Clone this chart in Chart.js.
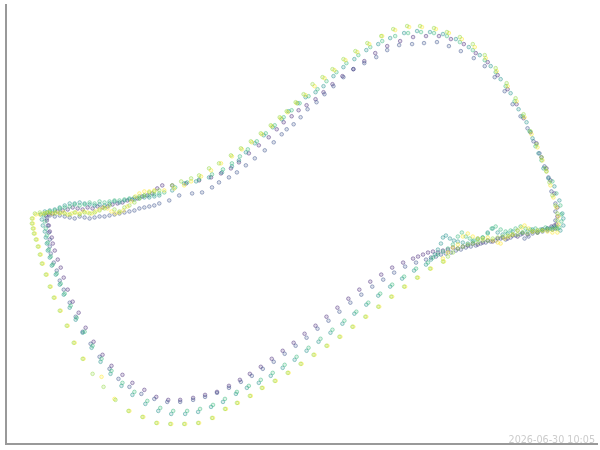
<!DOCTYPE html>
<html>
<head>
<meta charset="utf-8">
<script src="https://cdn.jsdelivr.net/npm/chart.js@4/dist/chart.umd.min.js"></script>
<style>
    body { margin: 0; background: #fff; }
    #wrap { position: relative; width: 600px; height: 450px; }
    #stamp {
        position: absolute; right: 5px; top: 435px;
        font: 9.6px "DejaVu Sans", sans-serif; line-height: 9.6px;
        color: #cccccc; white-space: nowrap;
    }
</style>
</head>
<body>
<div id="wrap">
    <canvas id="loopChart" width="600" height="450"></canvas>
    <div id="stamp">2026-06-30 10:05</div>
</div>
<script>
// Hysteresis loops, one per run: [field, moment] (arbitrary units)
const loopPurple = [
    [-254,9],[-253,4],[-251,-1],[-250,-7],[-248,-13],[-247,-19],[-245,-26],[-242,-35],[-239,-43],[-236,-53],[-232,-65],[-227,-77],[-221,-88],[-214,-103],[-206,-117],[-197,-130],[-188,-141],[-177,-150],[-167,-158],[-155,-165],[-143,-172],[-131,-175],[-119,-175],[-106,-173],[-94,-170],[-82,-167],[-70,-161],[-59,-155],[-49,-149],[-38,-142],[-27,-134],[-16,-126],[-5,-118],[6,-109],[17,-101],[28,-92],[39,-83],[50,-74],[61,-65],[72,-57],[83,-50],[94,-43],[105,-38],[115,-34],
    [120,-32],[125,-30],[130,-28],[135,-27],[140,-28],[145,-26],[150,-25],[155,-23],[160,-24],[165,-22],[170,-21],[175,-19],[180,-20],[185,-18],[190,-16],[195,-17],[200,-14],[205,-13],[210,-14],[215,-11],[220,-12],[225,-9],[230,-10],[235,-7],[240,-8],[245,-5],[250,-4],[254,-2],[257,-1],[259,0],
    [260,8],[260,17],[257,31],[253,44],[249,56],[244,67],[239,81],[233,92],[226,106],[219,120],[210,135],[200,149],[190,162],[178,171],[166,180],[153,185],[141,188],[128,188],[115,187],[102,183],[89,178],[77,171],[66,163],[55,155],[44,148],[34,140],[25,132],[17,125],[8,119],[0,114],[-7,108],[-15,102],[-22,95],[-30,87],[-40,79],[-50,71],[-60,62],[-68,56],[-78,51],[-88,47],[-100,44],[-113,41],[-127,39],[-137,39],
    [-142,36],[-147,31],[-152,29],[-157,28],[-162,26],[-167,25],[-172,24],[-177,22],[-182,21],[-187,20],[-192,18],[-197,17],[-202,18],[-207,16],[-212,17],[-217,15],[-222,16],[-227,17],[-232,15],[-237,14],[-242,13],[-247,11],[-251,10]
];
const loopBlue = [
    [-253,6],[-252,-1],[-251,-8],[-250,-15],[-250,-22],[-249,-29],[-246,-38],[-243,-46],[-240,-56],[-236,-65],[-230,-78],[-224,-92],[-217,-107],[-209,-119],[-200,-132],[-190,-144],[-181,-154],[-170,-162],[-158,-169],[-145,-174],[-132,-177],[-119,-177],[-106,-175],[-94,-172],[-82,-168],[-70,-163],[-58,-157],[-47,-151],[-36,-144],[-25,-137],[-14,-129],[-3,-121],[8,-113],[19,-104],[30,-96],[41,-87],[52,-78],[63,-70],[74,-62],[85,-55],[96,-48],[107,-42],[118,-38],[128,-35],
    [133,-33],[138,-32],[143,-30],[148,-29],[153,-28],[158,-26],[163,-25],[168,-23],[173,-22],[178,-21],[183,-19],[188,-18],[193,-17],[198,-16],[203,-14],[208,-15],[213,-13],[218,-11],[223,-10],[227,-14],[231,-12],[235,-9],[240,-8],[245,-7],[250,-6],[255,-5],[258,-4],
    [258,4],[258,13],[258,21],[254,33],[251,47],[247,58],[242,71],[236,83],[230,96],[223,108],[215,120],[207,133],[197,147],[187,158],[176,166],[163,173],[151,178],[139,182],[126,181],[114,180],[101,179],[89,174],[78,167],[66,161],[55,155],[45,147],[35,138],[26,130],[18,122],[9,115],[2,107],[-5,100],[-12,95],[-17,90],[-25,82],[-34,74],[-44,66],[-53,59],[-62,52],[-70,47],[-80,42],[-87,37],[-97,32],[-107,31],[-120,29],[-130,24],[-140,21],
    [-145,19],[-150,18],[-155,17],[-160,16],[-165,14],[-170,13],[-175,12],[-180,11],[-185,10],[-190,9],[-195,8],[-200,8],[-205,7],[-210,6],[-215,7],[-220,8],[-225,6],[-230,7],[-235,8],[-240,9],[-245,8],[-250,9]
];
const loopTeal = [
    [-259,10],[-258,5],[-257,-1],[-255,-7],[-254,-13],[-253,-19],[-252,-26],[-250,-33],[-248,-41],[-244,-50],[-240,-60],[-236,-70],[-230,-83],[-224,-95],[-217,-108],[-208,-123],[-199,-137],[-189,-149],[-178,-161],[-167,-170],[-154,-179],[-141,-186],[-128,-189],[-114,-189],[-101,-187],[-88,-182],[-76,-177],[-63,-169],[-52,-163],[-40,-158],[-28,-151],[-16,-143],[-4,-135],[8,-126],[20,-117],[32,-108],[44,-99],[56,-89],[68,-80],[80,-71],[92,-62],[104,-54],[116,-46],[128,-40],
    [133,-35],[137,-30],[140,-25],[143,-19],[145,-13],[148,-11],[152,-14],[156,-16],[160,-17],[165,-18],[170,-19],[175,-17],[180,-14],[185,-13],[190,-8],[195,-4],[200,-8],[205,-10],[210,-9],[215,-7],[220,-6],[225,-8],[230,-7],[235,-5],[240,-6],[245,-5],[250,-4],[255,-3],[260,-4],[263,-6],
    [266,-1],[266,6],[265,11],[262,24],[257,38],[251,46],[246,56],[241,71],[235,86],[229,102],[221,115],[213,131],[203,145],[193,158],[182,169],[171,177],[158,185],[145,190],[132,192],[119,193],[106,191],[92,186],[80,180],[68,174],[56,165],[45,157],[35,148],[25,138],[17,132],[7,127],[-1,121],[-10,113],[-17,105],[-26,97],[-35,89],[-44,81],[-53,72],[-60,64],[-67,58],[-77,52],[-90,47],[-103,43],[-115,41],[-127,34],[-140,29],
    [-145,28],[-150,27],[-155,27],[-160,26],[-165,25],[-170,25],[-175,24],[-180,22],[-185,23],[-190,21],[-195,19],[-200,20],[-205,19],[-210,20],[-215,21],[-220,22],[-225,21],[-230,21],[-235,19],[-240,17],[-245,15],[-250,14],[-255,13]
];
const loopGreen = [
    [-256,9],[-255,3],[-254,-4],[-253,-11],[-252,-18],[-251,-25],[-249,-32],[-247,-40],[-243,-49],[-239,-59],[-235,-69],[-229,-81],[-223,-93],[-215,-107],[-207,-121],[-198,-134],[-188,-146],[-177,-158],[-165,-167],[-152,-176],[-139,-183],[-126,-186],[-112,-186],[-99,-184],[-86,-180],[-74,-174],[-62,-167],[-50,-161],[-38,-155],[-26,-148],[-14,-140],[-2,-132],[10,-123],[22,-114],[34,-105],[46,-96],[58,-87],[70,-78],[82,-69],[94,-60],[106,-52],[118,-44],[130,-38],
    [135,-33],[140,-30],[145,-27],[150,-24],[155,-20],[160,-12],[164,-8],[168,-12],[172,-14],[176,-16],[180,-15],[185,-13],[190,-9],[194,-4],[198,-2],[203,-5],[208,-7],[213,-6],[218,-4],[223,-2],[228,-4],[233,-5],[238,-4],[243,-5],[248,-3],[253,-4],[258,-2],[262,-3],
    [264,3],[264,10],[263,19],[259,31],[255,43],[249,53],[244,64],[238,78],[232,93],[225,108],[217,123],[208,138],[198,152],[187,164],[175,174],[162,182],[149,188],[136,191],[123,192],[110,191],[97,188],[84,183],[72,177],[60,169],[48,161],[38,152],[28,143],[19,135],[10,128],[1,121],[-7,114],[-15,107],[-24,99],[-33,91],[-42,83],[-51,75],[-59,68],[-67,61],[-76,55],[-87,50],[-100,45],[-112,42],[-124,37],[-135,32],
    [-140,31],[-145,30],[-150,29],[-155,29],[-160,28],[-165,27],[-170,26],[-175,25],[-180,24],[-185,24],[-190,23],[-195,22],[-200,23],[-205,21],[-210,22],[-215,20],[-220,19],[-225,20],[-230,18],[-235,17],[-240,16],[-245,14],[-250,13],[-253,12]
];
const loopLime = [
    [-268,6],[-268,1],[-267,-4],[-266,-9],[-264,-15],[-262,-22],[-260,-30],[-258,-39],[-254,-50],[-250,-62],[-246,-73],[-240,-86],[-233,-101],[-226,-118],[-217,-134],[-207,-149],[-196,-162],[-184,-175],[-171,-186],[-157,-192],[-143,-198],[-129,-199],[-115,-199],[-101,-198],[-87,-193],[-74,-184],[-62,-178],[-49,-171],[-37,-163],[-24,-156],[-11,-148],[2,-139],[15,-130],[28,-121],[41,-112],[54,-102],[67,-92],[80,-82],[93,-72],[106,-62],[119,-53],[132,-44],[145,-37],
    [150,-32],[155,-28],[160,-24],[165,-22],[170,-20],[175,-19],[180,-18],[185,-16],[190,-16],[195,-14],[200,-13],[205,-12],[210,-11],[215,-10],[220,-10],[225,-8],[230,-9],[235,-7],[240,-8],[245,-6],[250,-5],[255,-5],[259,-4],
    [260,4],[260,11],[258,19],[255,29],[252,42],[248,56],[244,67],[239,80],[233,93],[226,110],[218,126],[209,141],[198,156],[187,169],[175,180],[162,187],[149,192],[136,196],[122,198],[109,198],[95,195],[83,188],[69,181],[57,173],[45,165],[34,155],[24,147],[14,140],[5,130],[-3,122],[-12,113],[-19,107],[-28,99],[-38,91],[-48,83],[-58,76],[-68,69],[-80,61],[-90,56],[-100,49],[-108,46],[-118,43],[-127,39],[-140,34],
    [-145,33],[-150,32],[-155,29],[-160,26],[-165,22],[-170,19],[-175,17],[-180,13],[-185,15],[-190,19],[-195,16],[-200,14],[-205,12],[-210,11],[-215,12],[-220,10],[-225,12],[-230,10],[-235,11],[-240,12],[-245,11],[-250,12],[-255,11],[-260,12],[-265,11]
];
const loopYellow = [
    [-267,6],[-267,1],[-266,-4],[-265,-9],[-263,-15],[-261,-22],[-259,-30],[-257,-39],[-253,-50],[-249,-62],[-245,-73],[-239,-86],[-232,-101],[-225,-118],[-216,-134],[-198,-152],[-185,-174],[-170,-186],[-156,-192],[-142,-198],[-128,-199],[-114,-199],[-100,-198],[-86,-193],[-73,-184],[-61,-178],[-48,-171],[-36,-163],[-23,-156],[-10,-148],[3,-139],[16,-130],[29,-121],[42,-112],[55,-102],[68,-92],[81,-82],[94,-72],[107,-62],[120,-53],[133,-44],[146,-37],
    [145,-34],[150,-28],[155,-23],[160,-20],[165,-12],[170,-9],[175,-12],[180,-14],[185,-14],[190,-13],[195,-16],[200,-18],[203,-19],[207,-14],[211,-12],[215,-10],[220,-6],[224,-3],[227,-1],[231,-4],[235,-7],[240,-6],[245,-6],[250,-7],[255,-8],[260,-8],
    [261,0],[261,8],[259,17],[256,27],[253,39],[249,53],[245,64],[240,77],[234,90],[227,107],[219,123],[210,138],[199,153],[188,166],[177,177],[164,185],[151,191],[138,195],[124,197],[111,197],[97,194],[84,188],[71,180],[59,172],[47,164],[36,154],[26,146],[16,138],[7,129],[-2,121],[-11,112],[-18,106],[-27,98],[-37,90],[-47,82],[-57,75],[-67,68],[-78,61],[-88,54],[-98,48],[-108,43],
    [-115,39],[-125,36],[-135,34],[-145,34],[-150,33],[-155,33],[-160,31],[-164,28],[-168,23],[-172,18],[-176,14],[-180,12],[-184,11],[-188,13],[-192,16],[-196,17],[-200,15],[-204,13],[-208,11],[-212,12],[-216,13],[-220,11],[-224,12],[-228,11],[-232,10],[-236,12],[-240,11],[-244,12],[-248,11],[-252,12],[-256,11],[-260,10],[-264,10]
];

const loops = [loopPurple, loopBlue, loopTeal, loopGreen, loopLime, loopYellow];
// viridis steps
const loopColors = ['72,40,120', '59,82,139', '33,145,140', '53,183,121', '144,215,67', '253,231,37'];
// drawing order (higher = further back); lime sits over yellow
const loopDepth = [6, 5, 4, 3, 1, 2];

const fieldRange = [-294, 300];
const momentRange = [-219, 219];

document.addEventListener('DOMContentLoaded', function() {
    const ctx = document.getElementById('loopChart');

    const datasets = loops.map(function(loop, i) {
        return {
            data: loop.map(p => ({ x: p[0], y: p[1] })),
            borderColor: 'rgba(' + loopColors[i] + ',0.45)',
            backgroundColor: 'rgba(' + loopColors[i] + ',0.18)',
            pointRadius: 1.8,
            pointBorderWidth: 1,
            pointHoverRadius: 1.8,
            order: loopDepth[i]
        };
    });

    new Chart(ctx, {
        type: 'scatter',
        data: { datasets: datasets },
        options: {
            responsive: false,
            animation: false,
            events: [],
            layout: { padding: { left: 6, top: 5, right: 0, bottom: 6 } },
            plugins: {
                legend: { display: false },
                tooltip: { enabled: false }
            },
            scales: {
                x: {
                    min: fieldRange[0],
                    max: fieldRange[1],
                    ticks: { display: false },
                    grid: { display: false, drawTicks: false },
                    border: { display: true, color: '#999999', width: 2 }
                },
                y: {
                    min: momentRange[0],
                    max: momentRange[1],
                    ticks: { display: false },
                    grid: { display: false, drawTicks: false },
                    border: { display: true, color: '#999999', width: 2 }
                }
            }
        }
    });
});
</script>
</body>
</html>
